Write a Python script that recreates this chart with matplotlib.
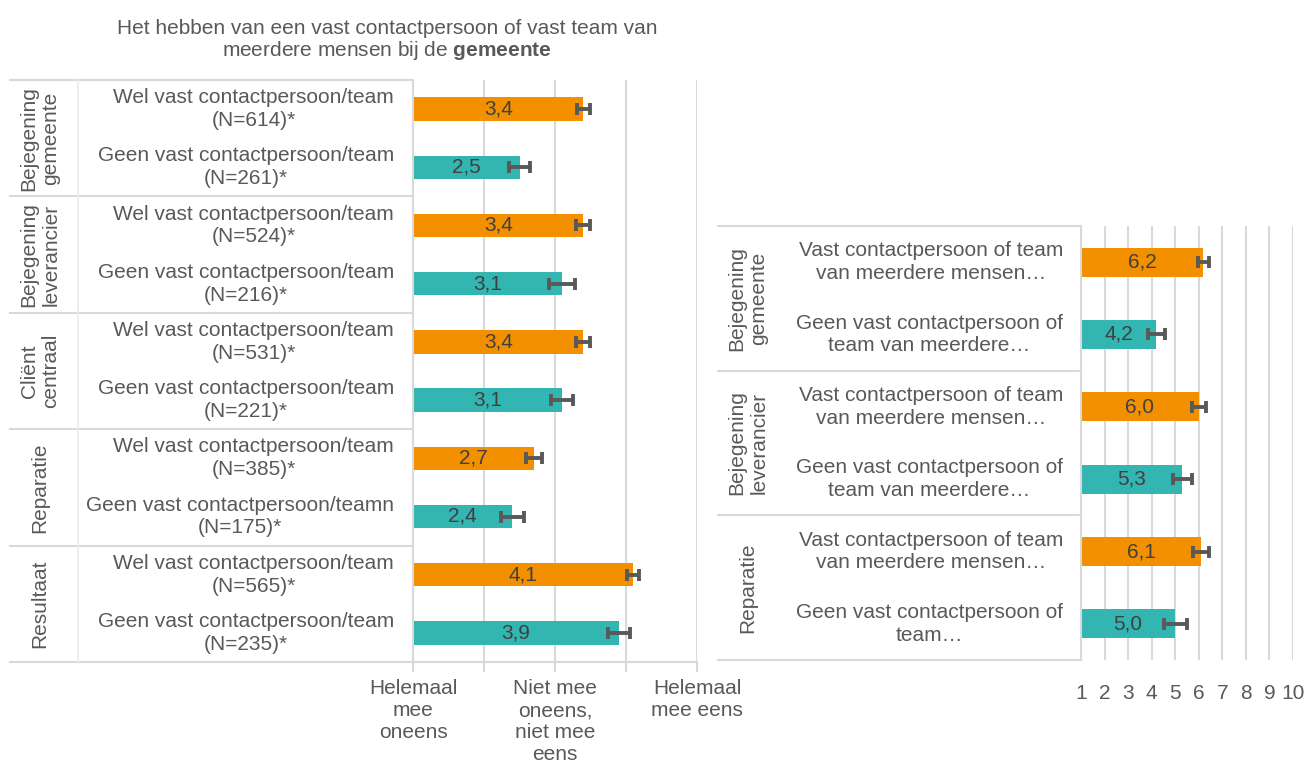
import matplotlib.pyplot as plt
from matplotlib.lines import Line2D

plt.rcParams['font.family'] = ['Liberation Sans', 'DejaVu Sans']
plt.rcParams['mathtext.fontset'] = 'custom'
plt.rcParams['mathtext.rm'] = 'Liberation Sans'
plt.rcParams['mathtext.bf'] = 'Liberation Sans:bold'

# data
left_groups = ["Bejegening\ngemeente", "Bejegening\nleverancier", "Cliënt\ncentraal", "Reparatie", "Resultaat"]
left_labels = ["Wel vast contactpersoon/team\n(N=614)*", "Geen vast contactpersoon/team\n(N=261)*",
               "Wel vast contactpersoon/team\n(N=524)*", "Geen vast contactpersoon/team\n(N=216)*",
               "Wel vast contactpersoon/team\n(N=531)*", "Geen vast contactpersoon/team\n(N=221)*",
               "Wel vast contactpersoon/team\n(N=385)*", "Geen vast contactpersoon/teamn\n(N=175)*",
               "Wel vast contactpersoon/team\n(N=565)*", "Geen vast contactpersoon/team\n(N=235)*"]
left_values = [3.4, 2.5, 3.4, 3.1, 3.4, 3.1, 2.7, 2.4, 4.1, 3.9]
left_err = [0.09, 0.15, 0.10, 0.18, 0.10, 0.16, 0.11, 0.16, 0.09, 0.16]
left_ticks = [1, 3, 5]
left_ticklabels = ["Helemaal\nmee\noneens", "Niet mee\noneens,\nniet mee\neens", "Helemaal\nmee eens"]

right_groups = ["Bejegening\ngemeente", "Bejegening\nleverancier", "Reparatie"]
right_labels = ["Vast contactpersoon of team\nvan meerdere mensen…", "Geen vast contactpersoon of\nteam van meerdere…",
                "Vast contactpersoon of team\nvan meerdere mensen…", "Geen vast contactpersoon of\nteam van meerdere…",
                "Vast contactpersoon of team\nvan meerdere mensen…", "Geen vast contactpersoon of\nteam…"]
right_values = [6.2, 4.2, 6.0, 5.3, 6.1, 5.0]
right_err = [0.25, 0.35, 0.30, 0.40, 0.33, 0.48]

orange = '#F39000'
teal = '#33B5B1'
txt = '#595959'
grid = '#D9D9D9'
FS = 15

W, H = 1309, 769
fig = plt.figure(figsize=(W / 100, H / 100), dpi=100)


def fx(px):
    return px / W


def fy(py):
    return 1 - py / H


def hline(x0, x1, y):
    fig.add_artist(Line2D([fx(x0), fx(x1)], [fy(y), fy(y)], color=grid, lw=1.5))


def vline(x, y0, y1):
    fig.add_artist(Line2D([fx(x), fx(x)], [fy(y0), fy(y1)], color='#EBEBEB', lw=1.2))


def panel(x0, x1, y0, y1, values, errs, xmax, labels, label_x, groups, group_x, table_x0):
    ax = fig.add_axes([fx(x0), fy(y1), fx(x1) - fx(x0), fy(y0) - fy(y1)])
    n = len(values)
    ys = list(range(n))
    colors = [orange if i % 2 == 0 else teal for i in ys]
    ax.barh(ys, [v - 1 for v in values], left=1, height=0.4, color=colors)
    ax.errorbar(values, ys, xerr=errs, fmt='none', ecolor='#595959', elinewidth=2.8,
                capsize=4, capthick=2.8)
    for i, v in enumerate(values):
        ax.text((1 + v) / 2, i, f"{v:.1f}".replace('.', ','), ha='center', va='center',
                fontsize=FS, color='#404040')
    ax.set_xlim(1, xmax)
    ax.set_ylim(n - 0.5, -0.5)
    ax.set_yticks([])
    ax.grid(axis='x', color=grid, lw=1.5)
    ax.set_axisbelow(True)
    for s in ['top', 'right']:
        ax.spines[s].set_visible(False)
    ax.spines['left'].set_color(grid)
    ax.spines['left'].set_linewidth(1.5)
    ax.spines['bottom'].set_color(grid)
    ax.spines['bottom'].set_linewidth(1.5)
    # category labels
    row_h = (y1 - y0) / n
    for i, lab in enumerate(labels):
        fig.text(fx(label_x), fy(y0 + row_h * (i + 0.5)), lab, ha='right', va='center',
                 multialignment='center', fontsize=FS, color=txt, linespacing=1.25)
    # group labels and separators
    ng = len(groups)
    g_h = (y1 - y0) / ng
    for g, lab in enumerate(groups):
        fig.text(fx(group_x), fy(y0 + g_h * (g + 0.5)), lab, ha='center', va='center',
                 rotation=90, fontsize=FS, color=txt, linespacing=1.2, multialignment='center')
        hline(table_x0, x0, y0 + g_h * g)
    hline(table_x0, x0, y1)
    return ax


# left panel
axl = panel(413, 697, 80, 662, left_values, left_err, 5, left_labels, 394,
            left_groups, 40, 10)
axl.set_xticks([1, 2, 3, 4, 5])
axl.set_xticklabels(['', '', '', '', ''])
axl.tick_params(axis='x', length=7, color=grid, width=1.5)
for t, lab in zip(left_ticks, left_ticklabels):
    axl.text(t, -0.03, lab, transform=axl.get_xaxis_transform(), ha='center', va='top',
             fontsize=FS, color=txt, linespacing=1.2)
vline(78, 80, 662)
hline(413, 697, 662)

fig.text(fx(387), fy(28), "Het hebben van een vast contactpersoon of vast team van",
         ha='center', va='center', fontsize=FS, color=txt)
fig.text(fx(387), fy(51), r"meerdere mensen bij de $\bf{gemeente}$",
         ha='center', va='center', fontsize=FS, color=txt)

# right panel
axr = panel(1081, 1293, 226, 660, right_values, right_err, 10, right_labels, 1063,
            right_groups, 748, 718)
axr.set_xticks(range(1, 11))
axr.tick_params(axis='x', length=0, labelsize=FS, labelcolor=txt, pad=17)
axr.spines['bottom'].set_visible(False)

fig.savefig('out.png', dpi=100)
